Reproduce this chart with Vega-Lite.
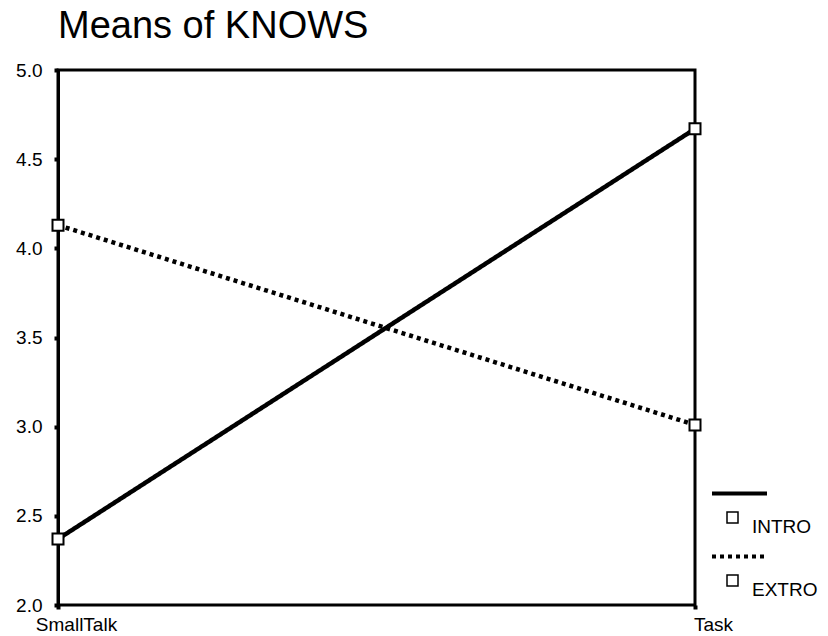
{
  "$schema": "https://vega.github.io/schema/vega-lite/v6.json",
  "autosize": "none",
  "width": 637,
  "height": 535,
  "padding": {"left": 58, "top": 70, "right": 133, "bottom": 31},
  "background": "white",
  "title": {
    "text": "Means of KNOWS",
    "anchor": "start",
    "frame": "group",
    "font": "Liberation Sans",
    "fontSize": 38,
    "fontWeight": "normal",
    "color": "black",
    "offset": 15
  },
  "config": {
    "view": {"stroke": "black", "strokeWidth": 3},
    "axis": {
      "labelFont": "Liberation Sans",
      "labelFontSize": 19,
      "labelColor": "black",
      "grid": false,
      "tickColor": "black",
      "tickWidth": 4,
      "tickSize": 4,
      "domainColor": "black",
      "domainWidth": 3,
      "title": null
    },
    "legend": {
      "labelFont": "Liberation Sans",
      "labelFontSize": 19,
      "labelColor": "black",
      "title": null,
      "padding": 0
    }
  },
  "data": {
    "values": [
      {"condition": "SmallTalk", "group": "INTRO", "mean": 2.37},
      {"condition": "Task", "group": "INTRO", "mean": 4.67},
      {"condition": "SmallTalk", "group": "EXTRO", "mean": 4.13},
      {"condition": "Task", "group": "EXTRO", "mean": 3.01}
    ]
  },
  "encoding": {
    "x": {
      "field": "condition",
      "type": "nominal",
      "scale": {"type": "point", "padding": 0},
      "axis": {
        "labelAngle": 0,
        "labelPadding": 6,
        "labelOffset": 18,
        "domain": false
      }
    },
    "y": {
      "field": "mean",
      "type": "quantitative",
      "scale": {"domain": [2, 5], "nice": false, "zero": false},
      "axis": {"values": [2, 2.5, 3, 3.5, 4, 4.5, 5], "format": ".1f", "labelPadding": 12}
    }
  },
  "layer": [
    {
      "mark": {"type": "line", "color": "black", "strokeWidth": 4.5, "strokeCap": "butt"},
      "encoding": {
        "strokeDash": {
          "field": "group",
          "type": "nominal",
          "scale": {"domain": ["INTRO", "EXTRO"], "range": [[1, 0], [4, 4]]},
          "legend": {
            "orient": "none",
            "legendX": 652,
            "legendY": 394,
            "symbolType": "stroke",
            "symbolSize": 3025,
            "symbolStrokeWidth": 4,
            "symbolStrokeColor": "black",
            "labelOpacity": 0,
            "labelLimit": 1,
            "rowPadding": 23
          }
        }
      }
    },
    {
      "mark": {"type": "point", "filled": true, "fill": "white", "stroke": "black", "strokeWidth": 2, "size": 121, "opacity": 1},
      "encoding": {
        "shape": {
          "field": "group",
          "type": "nominal",
          "sort": ["INTRO", "EXTRO"],
          "scale": {"range": ["square", "square"]},
          "legend": {
            "orient": "none",
            "legendX": 665,
            "legendY": 438,
            "symbolSize": 121,
            "labelOffset": 10,
            "labelBaseline": "top",
            "rowPadding": 34,
            "encode": {
              "symbols": {
                "update": {
                  "fill": {"value": "white"},
                  "stroke": {"value": "black"},
                  "strokeWidth": {"value": 2},
                  "opacity": {"value": 1}
                }
              }
            }
          }
        }
      }
    }
  ]
}
